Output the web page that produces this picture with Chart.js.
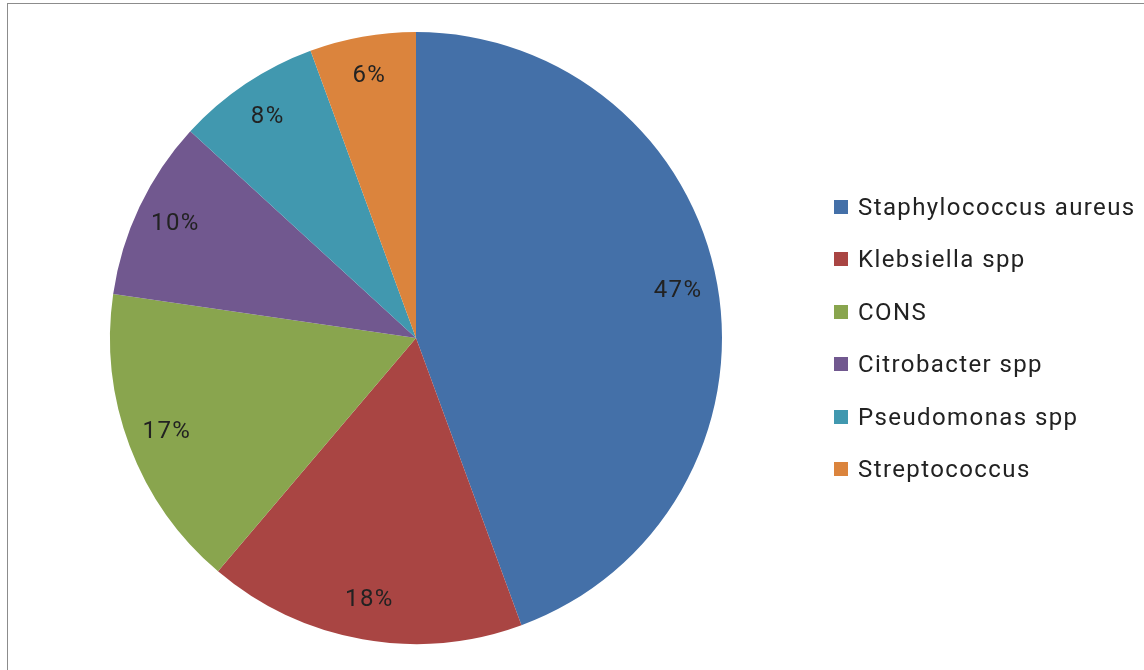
<!DOCTYPE html>
<html>
<head>
<meta charset="utf-8">
<script src="https://cdn.jsdelivr.net/npm/chart.js@4/dist/chart.umd.min.js"></script>
<style>
  html, body { margin: 0; padding: 0; background: #fff; overflow: hidden; }
  #frame { position: absolute; left: 7px; top: 3px; width: 1140px; height: 670px;
           border-left: 1px solid #8c8c8c; border-top: 1px solid #8c8c8c; }
  #wrap { position: absolute; left: 8px; top: 4px; width: 1136px; height: 666px; }
  #legend { position: absolute; left: 834px; top: 0; width: 310px; height: 670px;
            font-family: Roboto, sans-serif; font-size: 24px; letter-spacing: 1.4px; color: #222; }
  .item { position: absolute; left: 0; height: 28px; line-height: 28px; white-space: nowrap; }
  .sw { position: absolute; left: 0; top: 7px; width: 14px; height: 14px; }
  .tx { position: absolute; left: 24px; top: 0; }
</style>
</head>
<body>
<div id="frame"></div>
<div id="wrap"><canvas id="c"></canvas></div>
<div id="legend"></div>
<script>
const categories = ['Staphylococcus aureus', 'Klebsiella spp', 'CONS', 'Citrobacter spp', 'Pseudomonas spp', 'Streptococcus'];
const sliceValues = [44.4, 16.8, 16.1, 9.5, 7.6, 5.6];
const sliceLabels = ['47%', '18%', '17%', '10%', '8%', '6%'];
const sliceColors = ['#4470A8', '#A94543', '#89A54E', '#71588F', '#4198AF', '#DB843D'];

const labelPlugin = {
  id: 'sliceLabels',
  afterDatasetsDraw(chart) {
    const ctx = chart.ctx;
    const meta = chart.getDatasetMeta(0);
    ctx.save();
    ctx.font = '24px Roboto';
    try { ctx.letterSpacing = '1.4px'; } catch (e) {}
    ctx.fillStyle = '#222';
    ctx.textAlign = 'center';
    ctx.textBaseline = 'middle';
    meta.data.forEach((arc, i) => {
      const p = arc.getProps(['x', 'y', 'startAngle', 'endAngle', 'outerRadius']);
      const a = (p.startAngle + p.endAngle) / 2;
      const r = p.outerRadius * 0.87;
      ctx.fillText(sliceLabels[i], p.x + Math.cos(a) * r, p.y + Math.sin(a) * r);
    });
    ctx.restore();
  }
};

// HTML legend built from the same arrays
const legend = document.getElementById('legend');
const rowStep = 52.4, firstRow = 207;
categories.forEach((name, i) => {
  const it = document.createElement('div');
  it.className = 'item';
  it.style.top = (firstRow + i * rowStep - 14) + 'px';
  const sw = document.createElement('div');
  sw.className = 'sw';
  sw.style.background = sliceColors[i];
  const tx = document.createElement('div');
  tx.className = 'tx';
  tx.textContent = name;
  it.appendChild(sw);
  it.appendChild(tx);
  legend.appendChild(it);
});

new Chart(document.getElementById('c'), {
  type: 'pie',
  data: {
    labels: categories,
    datasets: [{ data: sliceValues, backgroundColor: sliceColors, borderWidth: 0 }]
  },
  options: {
    responsive: true,
    maintainAspectRatio: false,
    animation: false,
    layout: { padding: { top: 28, bottom: 26, left: 0, right: 320 } },
    plugins: {
      tooltip: { enabled: false },
      legend: { display: false }
    }
  },
  plugins: [labelPlugin]
});
</script>
</body>
</html>
